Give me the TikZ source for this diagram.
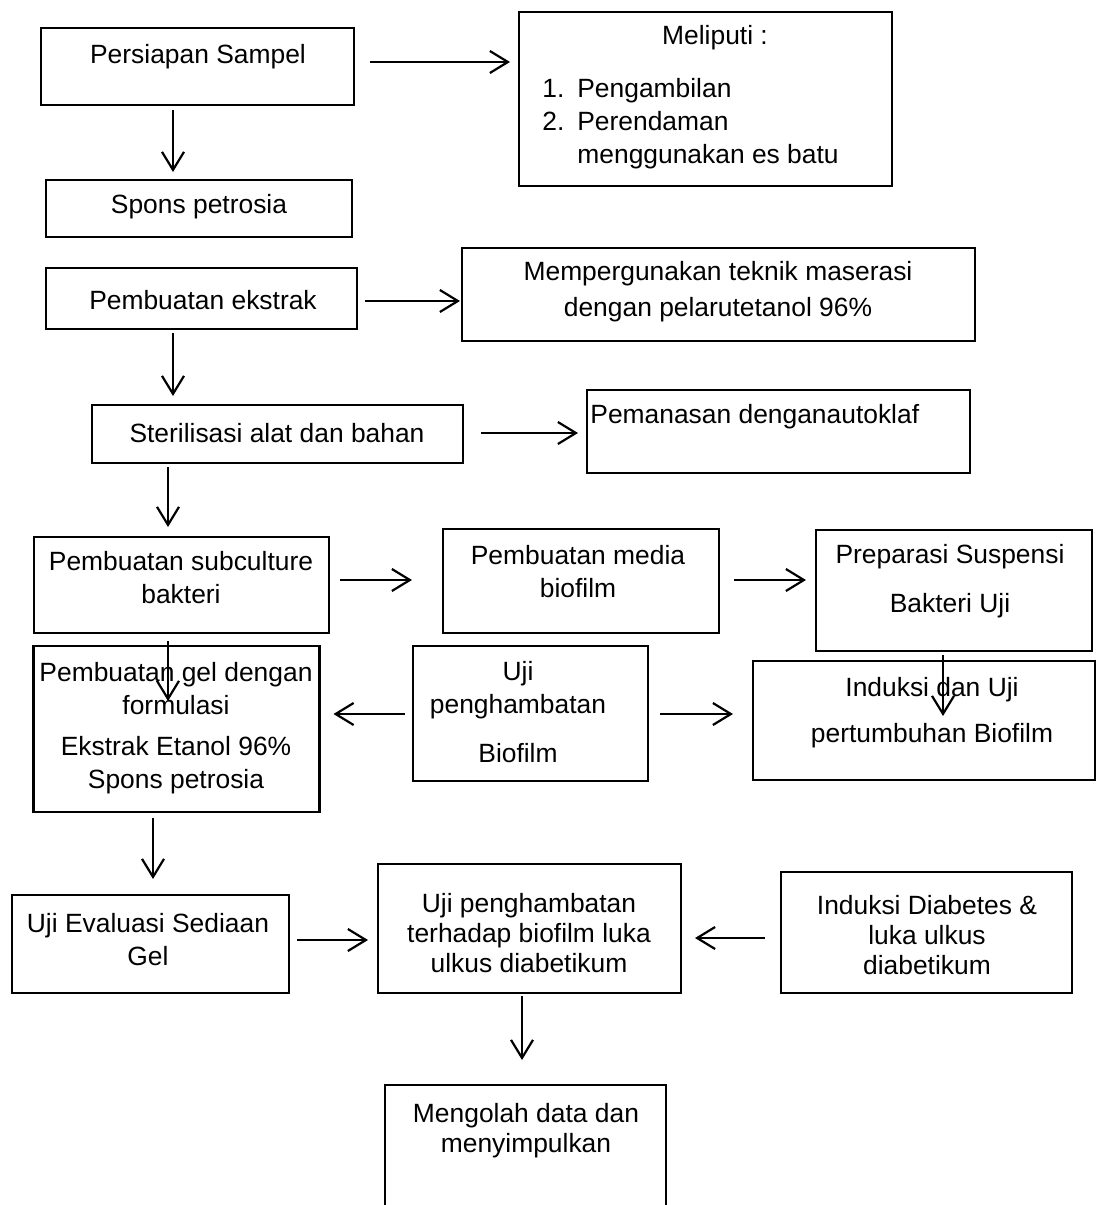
\documentclass[tikz,border=0pt]{standalone}
\usepackage{fontspec}
\setmainfont{Liberation Sans}
\usetikzlibrary{arrows.meta,calc}

\begin{document}
\begin{tikzpicture}[x=0.5pt,y=-0.5pt]
  \tikzset{
    kotak/.style={draw=black, line width=1.1pt, inner sep=0pt, outer sep=0pt},
    teks/.style={align=center, inner sep=0pt, font=\fontsize{13.2pt}{16.5pt}\selectfont},
    panah/.style={-{Straight Barb[length=9pt,width=11pt]}, line width=1.1pt}
  }
  \useasboundingbox (0,0) rectangle (1096,1205);
  \clip (0,0) rectangle (1096,1205);

  % Kotak (boxes)
  \node[kotak, minimum width=156.5pt, minimum height=38.5pt] (persiapan) at (197.5,66.5) {};
  \node[kotak, minimum width=186.5pt, minimum height=87pt] (meliputi) at (705.5,99) {};
  \node[kotak, minimum width=153pt, minimum height=28.5pt] (spons) at (199,208.5) {};
  \node[kotak, minimum width=155.5pt, minimum height=30.5pt] (ekstrak) at (201.5,298.5) {};
  \node[kotak, minimum width=256.5pt, minimum height=46.5pt] (maserasi) at (718.5,294.5) {};
  \node[kotak, minimum width=185.5pt, minimum height=29pt] (sterilisasi) at (277.5,434) {};
  \node[kotak, minimum width=191.5pt, minimum height=41.5pt] (pemanasan) at (778.5,431.5) {};
  \node[kotak, minimum width=147.5pt, minimum height=48pt] (subculture) at (181.5,585) {};
  \node[kotak, minimum width=138pt, minimum height=52pt] (media) at (581,581) {};
  \node[kotak, minimum width=138pt, minimum height=60.5pt] (suspensi) at (954,590.5) {};
  \node[kotak, minimum width=143pt, minimum height=83pt] (gel) at (176.5,729) {};
  \node[kotak, minimum width=117.5pt, minimum height=67.5pt] (uji) at (530.5,713.5) {};
  \node[kotak, minimum width=171pt, minimum height=59.5pt] (induksi) at (924,720.5) {};
  \node[kotak, minimum width=138.5pt, minimum height=49pt] (evaluasi) at (150.5,944) {};
  \node[kotak, minimum width=151.5pt, minimum height=64.5pt] (hambat) at (529.5,928.5) {};
  \node[kotak, minimum width=145.5pt, minimum height=60.5pt] (diabetes) at (926.5,932.5) {};
  \node[kotak, minimum width=140.5pt, minimum height=65pt] (mengolah) at (525.5,1150) {};

  % Teks
  \node[teks] (t-persiapan) at (198,57) {Persiapan Sampel};
  \node[teks] (t-meliputi) at (715,38) {Meliputi :};
  \node[teks, align=left, anchor=west] (t-daftar) at (542,124) {\makebox[17.5pt][l]{1.}Pengambilan\\
    \makebox[17.5pt][l]{2.}Perendaman\\ \hspace*{17.5pt}menggunakan es batu};
  \node[teks] (t-spons) at (199,207) {Spons petrosia};
  \node[teks] (t-ekstrak) at (203,300) {Pembuatan ekstrak};
  \node[teks] (t-maserasi) at (718,292) {Mempergunakan teknik maserasi\\[1.5pt] dengan pelarutetanol 96\%};
  \node[teks] (t-sterilisasi) at (277,433) {Sterilisasi alat dan bahan};
  \node[teks, anchor=west] (t-pemanasan) at (590,417) {Pemanasan denganautoklaf};
  \node[teks] (t-subculture) at (181,578) {Pembuatan subculture\\ bakteri};
  \node[teks] (t-media) at (578,572) {Pembuatan media\\ biofilm};
  \node[teks] (t-suspensi) at (950,581) {Preparasi Suspensi\\[8pt] Bakteri Uji};
  \node[teks] (t-gel) at (176,728) {Pembuatan gel dengan\\ formulasi\\[4pt] Ekstrak Etanol 96\%\\ Spons petrosia};
  \node[teks] (t-uji) at (518,712) {Uji\\ penghambatan\\[8pt] Biofilm};
  \node[teks] (t-induksi) at (932,713) {Induksi dan Uji\\[6.5pt] pertumbuhan Biofilm};
  \node[teks] (t-evaluasi) at (148,940) {Uji Evaluasi Sediaan\\ Gel};
  \node[teks] (t-hambat) at (529,933) {Uji penghambatan\\[-1.5pt] terhadap biofilm luka\\[-1.5pt] ulkus diabetikum};
  \node[teks] (t-diabetes) at (927,935) {Induksi Diabetes \&\\[-1.5pt] luka ulkus\\[-1.5pt] diabetikum};
  \node[teks] (t-mengolah) at (526,1131) {Mengolah data dan\\[-1.5pt] menyimpulkan};

  % Panah
  \draw[panah] ($(persiapan.east)+(16,-4.5)$) -- ($(persiapan.east -| meliputi.west)+(-9,-4.5)$);
  \draw[panah] ($(persiapan.south)+(-24.5,5)$) -- ($(spons.north)+(-26,-8)$);
  \draw[panah] ($(ekstrak.east)+(8,2.5)$) -- ($(ekstrak.east -| maserasi.west)+(-2,2.5)$);
  \draw[panah] ($(ekstrak.south)+(-28.5,4)$) -- ($(sterilisasi.north)+(-104.5,-9)$);
  \draw[panah] ($(sterilisasi.east)+(18,-1)$) -- ($(sterilisasi.east -| pemanasan.west)+(-9,-1)$);
  \draw[panah] ($(sterilisasi.south)+(-109.5,4)$) -- ($(subculture.north)+(-13.5,-10)$);
  \draw[panah] ($(subculture.east)+(11,-5)$) -- ($(subculture.east -| media.west)+(-31,-5)$);
  \draw[panah] ($(media.east)+(15,-1)$) -- ($(media.east -| suspensi.west)+(-10,-1)$);
  \draw[panah] ($(subculture.south)+(-13.5,8)$) -- ($(gel.north)+(-8.5,55)$);
  \draw[panah] ($(suspensi.south)+(-11,4)$) -- ($(induksi.north)+(19,55)$);
  \draw[panah] ($(uji.west)+(-8,0.5)$) -- ($(uji.west -| gel.east)+(14,0.5)$);
  \draw[panah] ($(uji.east)+(12,0.5)$) -- ($(uji.east -| induksi.west)+(-20,0.5)$);
  \draw[panah] ($(gel.south)+(-23.5,6)$) -- ($(evaluasi.north)+(2.5,-16)$);
  \draw[panah] ($(evaluasi.east)+(8,-4)$) -- ($(evaluasi.east -| hambat.west)+(-10,-4)$);
  \draw[panah] ($(diabetes.west)+(-16,5.5)$) -- ($(diabetes.west -| hambat.east)+(14,5.5)$);
  \draw[panah] ($(hambat.south)+(-7.5,3)$) -- ($(mengolah.north)+(-3.5,-25)$);
\end{tikzpicture}
\end{document}
